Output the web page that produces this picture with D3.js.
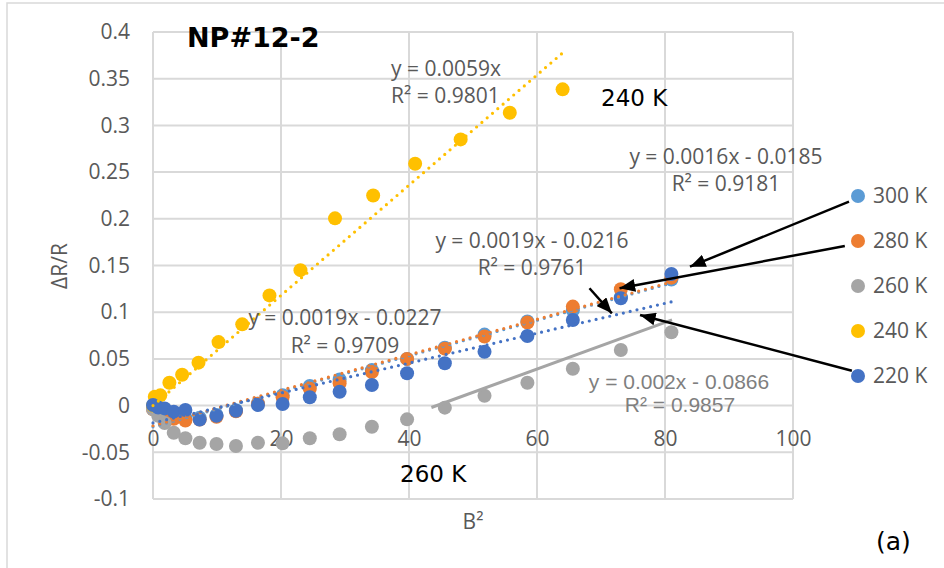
<!DOCTYPE html>
<html>
<head>
<meta charset="utf-8">
<script src="https://cdn.jsdelivr.net/npm/d3@7"></script>
<style>
  html, body { margin: 0; padding: 0; background: #fff; }
  svg { display: block; }
</style>
</head>
<body>
<svg id="chart" width="944" height="568"></svg>
<script>
// Magnetoresistance of sample NP#12-2 versus B^2 at five temperatures.
const temps = ["300 K", "280 K", "260 K", "240 K", "220 K"];
const colors = ["#5B9BD5", "#ED7D31", "#A5A5A5", "#FFC000", "#4472C4"];

// B^2 values of the field sweep used at 220-300 K
const bSq = [0, 0.81, 1.82, 3.24, 5.06, 7.29, 9.92, 12.96, 16.4, 20.25, 24.5, 29.16, 34.2, 39.7, 45.6, 51.8, 58.5, 65.6, 73.1, 81];
// B^2 values of the 240 K sweep
const bSq240 = [0, 0.28, 1.14, 2.56, 4.55, 7.11, 10.24, 13.94, 18.2, 23.04, 28.44, 34.4, 40.96, 48.07, 55.75, 64];

const mr300 = [0, -0.004, -0.008, -0.011, -0.013, -0.013, -0.010, -0.005, 0.002, 0.011, 0.021, 0.028, 0.038, 0.050, 0.062, 0.076, 0.090, 0.102, 0.116, 0.135];
const mr280 = [-0.004, -0.007, -0.011, -0.014, -0.016, -0.015, -0.012, -0.006, 0.002, 0.009, 0.018, 0.024, 0.036, 0.050, 0.061, 0.074, 0.089, 0.106, 0.1245, 0.137];
const mr260 = [-0.004, -0.011, -0.0186, -0.029, -0.035, -0.0397, -0.0411, -0.0433, -0.0397, -0.0404, -0.035, -0.0307, -0.0226, -0.0147, -0.0022, 0.0106, 0.0245, 0.0395, 0.0595, 0.0785];
const mr240 = [0, 0.0095, 0.011, 0.0245, 0.033, 0.046, 0.068, 0.087, 0.118, 0.145, 0.2005, 0.225, 0.259, 0.285, 0.3136, 0.3386];
const mr220 = [0.0006, -0.002, -0.003, -0.0065, -0.0047, -0.015, -0.011, -0.0055, 0.0006, 0.0017, 0.0089, 0.0149, 0.022, 0.0346, 0.0453, 0.0577, 0.0745, 0.0917, 0.1149, 0.1409];

// Linear fits: [slope, intercept, xFrom, xTo]
const fit300 = [0.0019, -0.0227, 0, 81];
const fit280 = [0.0019, -0.0216, 0, 81];
const fit240 = [0.0059, 0, 0, 64];
const fit220 = [0.0016, -0.0185, 0, 81];
// Straight guide through the high-field 260 K points: [[x, y], [x, y]]
const guide260 = [[43.5, -0.002], [81.1, 0.0917]];

const xTicks = [0, 20, 40, 60, 80, 100];
const yTicks = [-0.1, -0.05, 0, 0.05, 0.1, 0.15, 0.2, 0.25, 0.3, 0.35, 0.4];
const yTickLabels = ["-0.1", "-0.05", "0", "0.05", "0.1", "0.15", "0.2", "0.25", "0.3", "0.35", "0.4"];

// Arrows in data units: [fromX, fromY, toX, toY]
const arrows = [
  [108.75, 0.2183, 83.9, 0.1487],
  [108.1, 0.1709, 72.9, 0.1256],
  [109.2, 0.0374, 76.1, 0.097],
  [68.2, 0.1256, 71.7, 0.0988]
];

const svg = d3.select("#chart");
const x = d3.scaleLinear().domain([0, 100]).range([153, 793]);
const y = d3.scaleLinear().domain([-0.1, 0.4]).range([499, 32]);

const tickFont = "'Open Sans', sans-serif";
const textGray = "#595959";

// outer chart frame
svg.append("rect").attr("x", 7).attr("y", 3).attr("width", 1000).attr("height", 700)
  .attr("fill", "none").attr("stroke", "#D9D9D9").attr("stroke-width", 1.5);

// gridlines
const grid = svg.append("g").attr("stroke", "#D9D9D9").attr("stroke-width", 2);
grid.selectAll("line.h").data(yTicks).join("line")
  .attr("x1", x(0)).attr("x2", x(100)).attr("y1", d => y(d)).attr("y2", d => y(d));
grid.selectAll("line.v").data(xTicks).join("line")
  .attr("x1", d => x(d)).attr("x2", d => x(d)).attr("y1", y(0.4)).attr("y2", y(-0.1));

// y axis labels
const yAxis = d3.axisLeft(y).tickValues(yTicks).tickSize(0).tickPadding(23)
  .tickFormat((d, i) => yTickLabels[i]);
svg.append("g").attr("transform", `translate(${x(0)},0)`).call(yAxis)
  .call(g => g.select(".domain").remove())
  .call(g => g.selectAll("text").attr("font-family", tickFont).attr("font-size", 21).attr("fill", textGray));

// x axis labels, sitting under the zero line
const xAxis = d3.axisBottom(x).tickValues(xTicks).tickSize(0).tickPadding(25).tickFormat(d3.format("d"));
svg.append("g").attr("transform", `translate(0,${y(0)})`).call(xAxis)
  .call(g => g.select(".domain").remove())
  .call(g => g.selectAll("text").attr("font-family", tickFont).attr("font-size", 21).attr("fill", textGray));

// axis titles
svg.append("text").attr("transform", "translate(67,266) rotate(-90)")
  .attr("text-anchor", "middle").attr("font-family", tickFont).attr("font-size", 21)
  .attr("fill", textGray).text("ΔR/R");
svg.append("text").attr("x", 473).attr("y", 529).attr("text-anchor", "middle")
  .attr("font-family", tickFont).attr("font-size", 21).attr("fill", textGray).text("B²");

// scatter series, drawn 300 K first so 220 K ends on top
const series = [
  { xs: bSq, ys: mr300 },
  { xs: bSq, ys: mr280 },
  { xs: bSq, ys: mr260 },
  { xs: bSq240, ys: mr240 },
  { xs: bSq, ys: mr220 }
];
series.forEach((s, i) => {
  svg.append("g").selectAll("circle").data(s.xs.map((v, j) => [v, s.ys[j]])).join("circle")
    .attr("cx", d => x(d[0])).attr("cy", d => y(d[1])).attr("r", 7).attr("fill", colors[i]);
});

// dotted fit lines
const line = d3.line().x(d => x(d[0])).y(d => y(d[1]));
const fits = [[fit300, colors[0]], [fit280, colors[1]], [fit240, colors[3]], [fit220, colors[4]]];
fits.forEach(([f, c]) => {
  const pts = [[f[2], f[0] * f[2] + f[1]], [f[3], f[0] * f[3] + f[1]]];
  svg.append("path").attr("d", line(pts)).attr("fill", "none").attr("stroke", c)
    .attr("stroke-width", 3.2).attr("stroke-linecap", "round").attr("stroke-dasharray", "0 7");
});
svg.append("path").attr("d", line(guide260)).attr("fill", "none")
  .attr("stroke", colors[2]).attr("stroke-width", 3);

// fit equations
function eqLabel(lines, xPos, yPos, anchor, family, color, size) {
  lines.forEach((t, i) => {
    svg.append("text").attr("x", xPos).attr("y", yPos + i * 27).attr("text-anchor", anchor)
      .attr("font-family", family).attr("font-size", size).attr("fill", color).text(t);
  });
}
eqLabel(["y = 0.0059x", "R² = 0.9801"], 391, 76, "start", tickFont, textGray, 21);
eqLabel(["y = 0.0016x - 0.0185"], 726, 164, "middle", tickFont, textGray, 21);
eqLabel(["R² = 0.9181"], 726, 191, "middle", tickFont, textGray, 21);
eqLabel(["y = 0.0019x - 0.0216", "R² = 0.9761"], 532, 248, "middle", tickFont, textGray, 21);
eqLabel(["y = 0.0019x - 0.0227"], 345, 325, "middle", tickFont, textGray, 21);
eqLabel(["R² = 0.9709"], 345, 353, "middle", tickFont, textGray, 21);
eqLabel(["y = 0.002x - 0.0866"], 679, 389, "middle", "'Liberation Sans', Arial, sans-serif", "#7F7F7F", 21);
eqLabel(["R² = 0.9857"], 680, 412, "middle", "'Liberation Sans', Arial, sans-serif", "#7F7F7F", 21);

// title and temperature notes
svg.append("text").attr("x", 187).attr("y", 47).attr("font-family", "'DejaVu Sans', Verdana, sans-serif")
  .attr("font-weight", "bold").attr("font-size", 27).attr("fill", "#000").text("NP#12-2");
svg.append("text").attr("x", 601).attr("y", 106).attr("font-family", "'DejaVu Sans', Verdana, sans-serif")
  .attr("font-size", 23).attr("fill", "#000").text("240 K");
svg.append("text").attr("x", 400).attr("y", 482).attr("font-family", "'DejaVu Sans', Verdana, sans-serif")
  .attr("font-size", 23).attr("fill", "#000").text("260 K");
svg.append("text").attr("x", 876).attr("y", 550).attr("font-family", "'DejaVu Sans', Verdana, sans-serif")
  .attr("font-size", 25).attr("fill", "#000").text("(a)");

// legend
const legend = svg.append("g").attr("transform", "translate(858,196)");
temps.forEach((t, i) => {
  const row = legend.append("g").attr("transform", `translate(0,${i * 45})`);
  row.append("circle").attr("r", 7).attr("fill", colors[i]);
  row.append("text").attr("x", 15).attr("dy", "0.35em").attr("font-family", tickFont)
    .attr("font-size", 21).attr("fill", textGray).text(t);
});

// arrows linking legend entries to their data
svg.append("defs").append("marker").attr("id", "head").attr("markerUnits", "userSpaceOnUse")
  .attr("viewBox", "0 0 12 10").attr("refX", 12).attr("refY", 5)
  .attr("markerWidth", 16).attr("markerHeight", 13).attr("orient", "auto")
  .append("path").attr("d", "M0,0 L12,5 L0,10 Z").attr("fill", "#000");
svg.append("g").selectAll("line").data(arrows).join("line")
  .attr("x1", d => x(d[0])).attr("y1", d => y(d[1]))
  .attr("x2", d => x(d[2])).attr("y2", d => y(d[3]))
  .attr("stroke", "#000").attr("stroke-width", 2.5).attr("marker-end", "url(#head)");
</script>
</body>
</html>
